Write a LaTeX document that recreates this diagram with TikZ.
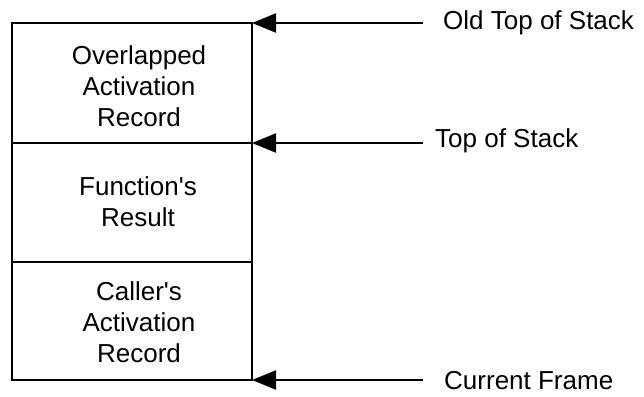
\documentclass[tikz,border=0pt]{standalone}
\usepackage{fontspec}
\setmainfont{Liberation Sans}
\usetikzlibrary{arrows.meta}
\begin{document}
\begin{tikzpicture}[x=1pt,y=-1pt,
  frame/.style={draw=black,line width=2.2pt,minimum width=240pt,inner sep=0pt,outer sep=0pt},
  txt/.style={align=center,inner sep=0pt,font=\fontsize{26}{31}\selectfont},
  lab/.style={anchor=west,inner sep=0pt,font=\fontsize{26}{31}\selectfont},
  ptr/.style={line width=2.2pt,-{Triangle[length=24pt,width=19pt]}}]
\useasboundingbox (0,0) rectangle (644,396);
\node[frame,minimum height=120pt] (s1) at (132,83) {};
\node[frame,minimum height=119pt] (s2) at (132,202.5) {};
\node[frame,minimum height=118pt] (s3) at (132,321) {};
\node[txt] (t1) at (139,86) {Overlapped\\Activation\\Record};
\node[txt] (t2) at (138,202) {Function\textquotesingle s\\Result};
\node[txt] (t3) at (139,322) {Caller\textquotesingle s\\Activation\\Record};
\node[lab] (l1) at (443,23) {Old Top of Stack};
\node[lab] (l2) at (435,141) {Top of Stack};
\node[lab] (l3) at (444,381) {Current Frame};
\coordinate (c1) at (423,23);
\coordinate (c2) at (423,143);
\coordinate (c3) at (423,380);
\draw[ptr] (c1) -- (s1.north east);
\draw[ptr] (c2) -- (s1.south east);
\draw[ptr] (c3) -- (s3.south east);
\end{tikzpicture}
\end{document}
